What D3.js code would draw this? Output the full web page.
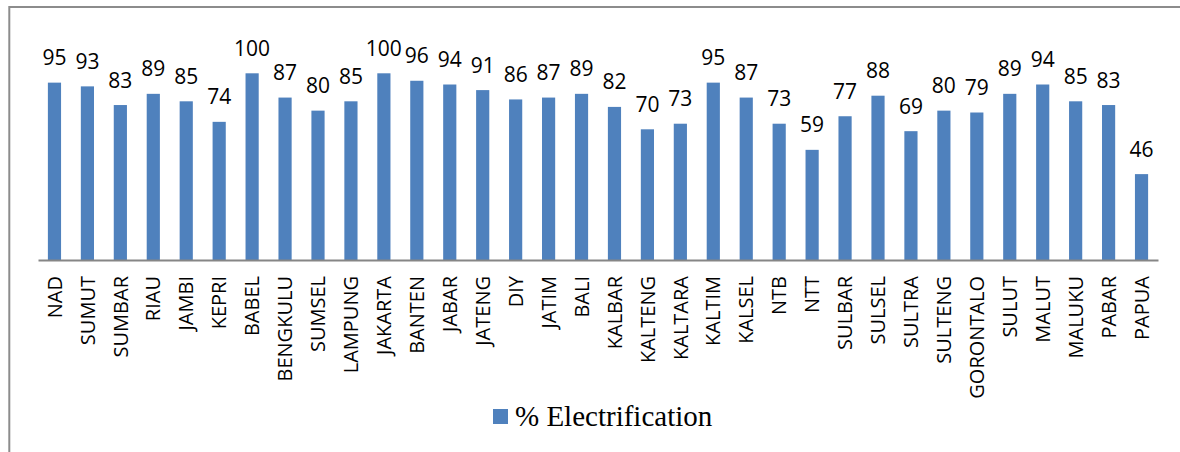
<!DOCTYPE html>
<html>
<head>
<meta charset="utf-8">
<script src="https://cdn.jsdelivr.net/npm/d3@7"></script>
<style>
  html, body { margin: 0; padding: 0; background: #fff; }
  svg { display: block; }
</style>
</head>
<body>
<svg id="chart" width="1180" height="452"></svg>
<script>
// Provinces and their electrification ratio (%)
const provinces = ["NAD","SUMUT","SUMBAR","RIAU","JAMBI","KEPRI","BABEL","BENGKULU","SUMSEL","LAMPUNG",
  "JAKARTA","BANTEN","JABAR","JATENG","DIY","JATIM","BALI","KALBAR","KALTENG","KALTARA",
  "KALTIM","KALSEL","NTB","NTT","SULBAR","SULSEL","SULTRA","SULTENG","GORONTALO","SULUT",
  "MALUT","MALUKU","PABAR","PAPUA"];
const electrification = [95,93,83,89,85,74,100,87,80,85,
  100,96,94,91,86,87,89,82,70,73,
  95,87,73,59,77,88,69,80,79,89,
  94,85,83,46];
const seriesName = "% Electrification";

const data = provinces.map((n, i) => ({ name: n, value: electrification[i] }));

const svg = d3.select("#chart");
const blue = "#4F81BD";

// frame (top and left edges)
svg.append("line").attr("x1", 9.3).attr("x2", 1180).attr("y1", 7).attr("y2", 7)
  .attr("stroke", "#8c8c8c").attr("stroke-width", 2);
svg.append("line").attr("x1", 9.3).attr("x2", 9.3).attr("y1", 6).attr("y2", 452)
  .attr("stroke", "#8c8c8c").attr("stroke-width", 2);

const x = d3.scaleBand().domain(provinces).range([38, 1158]).paddingInner(0.6).paddingOuter(0.3);
const y = d3.scaleLinear().domain([0, 100]).range([260, 73.3]);

// bars
svg.append("g").selectAll("rect").data(data).join("rect")
  .attr("x", d => x(d.name))
  .attr("width", x.bandwidth())
  .attr("y", d => y(d.value))
  .attr("height", d => y(0) - y(d.value))
  .attr("fill", blue);

// value labels
svg.append("g").selectAll("text").data(data).join("text")
  .attr("x", d => x(d.name) + x.bandwidth() / 2)
  .attr("y", d => y(d.value) - 17.5)
  .attr("text-anchor", "middle")
  .attr("font-family", "'Open Sans', sans-serif")
  .attr("font-size", 21)
  .attr("fill", "#000")
  .text(d => d.value);

// category axis
const xAxis = svg.append("g").attr("transform", `translate(0,${y(0)})`)
  .call(d3.axisBottom(x).tickSize(0).tickSizeOuter(0));
xAxis.select(".domain").attr("stroke", "#868686").attr("stroke-width", 2);
xAxis.selectAll(".tick text")
  .attr("font-family", "'Open Sans', sans-serif")
  .attr("font-size", 20)
  .attr("fill", "#000")
  .attr("text-anchor", "end")
  .attr("transform", "rotate(-90)")
  .attr("x", -16)
  .attr("y", 0)
  .attr("dy", "0.36em");

// legend
const legend = svg.append("g").attr("transform", "translate(493,409)");
legend.append("rect").attr("width", 15).attr("height", 15).attr("fill", blue);
legend.append("text").attr("x", 22).attr("y", 16.5)
  .attr("font-family", "'Liberation Serif', 'Times New Roman', serif")
  .attr("font-size", 29)
  .attr("fill", "#000")
  .text(seriesName);
</script>
</body>
</html>
